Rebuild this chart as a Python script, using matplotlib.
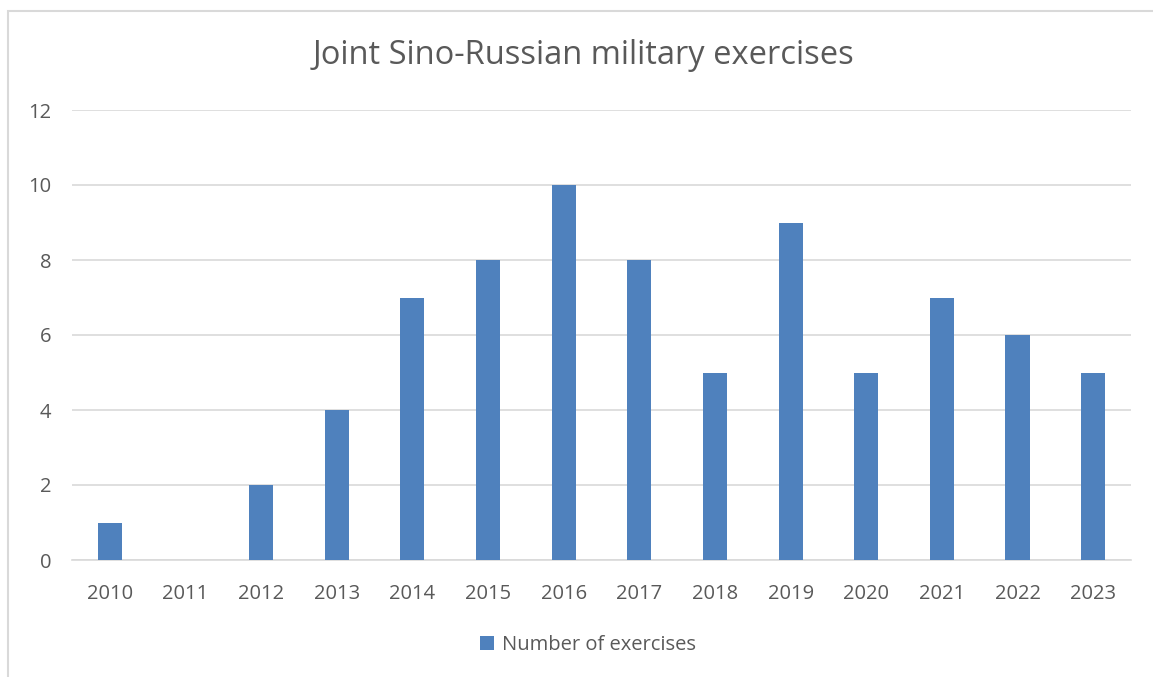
import matplotlib.pyplot as plt
from matplotlib.patches import Rectangle
import numpy as np

years = ["2010", "2011", "2012", "2013", "2014", "2015", "2016",
         "2017", "2018", "2019", "2020", "2021", "2022", "2023"]
exercises = [1, 0, 2, 4, 7, 8, 10, 8, 5, 9, 5, 7, 6, 5]

bar_color = "#4F81BD"
text_color = "#595959"
grid_color = "#D9D9D9"

plt.rcParams['font.family'] = ['Open Sans', 'DejaVu Sans']

fig = plt.figure(figsize=(11.53, 6.77), dpi=100)
ax = fig.add_axes([72 / 1153, 1 - 560 / 677, (1131 - 72) / 1153, (560 - 110) / 677])

ind = np.arange(len(years))
ax.bar(ind, exercises, 0.32, color=bar_color, label="Number of exercises", zorder=3)

ax.set_xlim(-0.5, len(years) - 0.5)
ax.set_ylim(0, 12)
ax.set_yticks(range(0, 13, 2))
ax.set_xticks(ind)
ax.set_xticklabels(years)
ax.yaxis.grid(True, color=grid_color, linewidth=1.2, zorder=0)
ax.tick_params(axis='both', length=0, labelsize=14.5, colors=text_color)
ax.tick_params(axis='x', pad=17)
ax.tick_params(axis='y', pad=15)
for s in ['top', 'right', 'left']:
    ax.spines[s].set_visible(False)
ax.spines['bottom'].set_color(grid_color)
ax.spines['bottom'].set_linewidth(1.2)

fig.text(583 / 1153, 1 - 55 / 677, "Joint Sino-Russian military exercises",
         ha='center', va='center', fontsize=23.5, color=text_color)

leg = fig.legend(loc='center', bbox_to_anchor=(588 / 1153, 1 - 645 / 677), frameon=False,
                 fontsize=14.5, handlelength=0.7, handleheight=0.7, handletextpad=0.4)
for t in leg.get_texts():
    t.set_color(text_color)

# outer chart frame (only left and top edges visible in the crop)
fig.patches.append(Rectangle((8 / 1153, -0.1), 1.2, (1 - 11 / 677) + 0.1,
                             transform=fig.transFigure, fill=False,
                             edgecolor="#D9D9D9", linewidth=1.5))

fig.savefig("out.png", dpi=100, facecolor="white")
